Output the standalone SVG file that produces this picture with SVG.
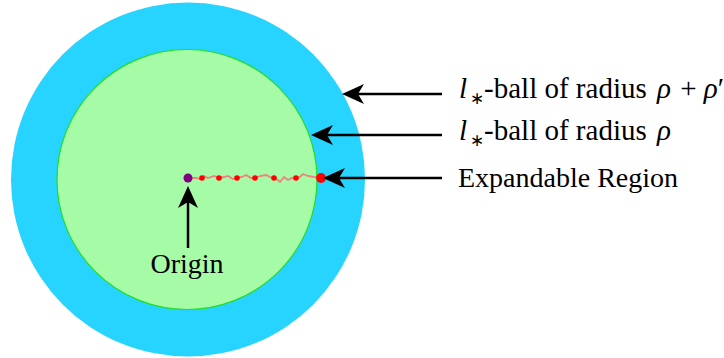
<svg xmlns="http://www.w3.org/2000/svg" width="724" height="358" viewBox="0 0 724 358">
<defs>
<style>
.lbl{font-family:"Liberation Serif","Times New Roman",serif;font-size:28px;fill:#000}
.r{font-size:29px}
.it{font-style:italic}
.sub{font-size:17px}
.ln{stroke:#000;stroke-width:2.5;fill:none}
</style>
<path id="ah" d="M0,0 L22,-10 L16,0 L22,10 Z" fill="#000"/>
</defs>
<rect width="724" height="358" fill="#fff"/>
<g id="outer-ball"><circle cx="188" cy="179.5" r="177" fill="#26d4ff"/></g>
<g id="inner-ball"><circle cx="187" cy="179.5" r="130" fill="#a6fba6" stroke="#22dd22" stroke-width="1.2"/></g>
<g id="path-points">
<polyline points="188,178 196,178 200,179 204,176 208,178 214,176 219,178 224,177 228,176 233,179 237,178 242,177 246,175 251,178 255,178 260,176 266,175 270,177 274,178 278,180 280,182 284,177 288,180 292,178 296,178 300,177 303,174 308,176 314,177 321,178" fill="none" stroke="#f08080" stroke-width="1.8"/>
<circle cx="202" cy="178" r="2.8" fill="#ff0000"/>
<circle cx="219" cy="178" r="2.8" fill="#ff0000"/>
<circle cx="237" cy="178" r="2.8" fill="#ff0000"/>
<circle cx="255" cy="178" r="2.8" fill="#ff0000"/>
<circle cx="274" cy="178" r="2.8" fill="#ff0000"/>
<circle cx="296" cy="178" r="2.8" fill="#ff0000"/>
</g>
<g id="origin"><circle cx="188" cy="178" r="4.5" fill="#800080"/></g>
<g id="expandable-point"><circle cx="321" cy="178" r="5" fill="#ff0000"/></g>
<g id="connectors">
<line class="ln" x1="442" y1="94" x2="358" y2="94"/>
<use href="#ah" x="342" y="94"/>
<line class="ln" x1="442" y1="135" x2="327" y2="135"/>
<use href="#ah" x="311" y="135"/>
<line class="ln" x1="442" y1="178" x2="339" y2="178"/>
<use href="#ah" x="323" y="178"/>
<line class="ln" x1="188" y1="248" x2="188" y2="202"/>
<use href="#ah" transform="translate(188,186) rotate(90)"/>
</g>
<g id="label-outer"><text class="lbl r" x="459" y="98"><tspan class="it">l</tspan><tspan class="sub" dx="3" dy="6">∗</tspan><tspan dy="-6">-ball of radius </tspan><tspan class="it" dx="3">ρ</tspan><tspan dx="2"> + </tspan><tspan class="it">ρ</tspan>′</text></g>
<g id="label-inner"><text class="lbl r" x="459" y="140"><tspan class="it">l</tspan><tspan class="sub" dx="3" dy="6">∗</tspan><tspan dy="-6">-ball of radius </tspan><tspan class="it" dx="3">ρ</tspan></text></g>
<g id="label-expandable"><text class="lbl" x="458" y="187" font-size="28.5">Expandable Region</text></g>
<g id="label-origin"><text class="lbl" x="187" y="273" text-anchor="middle">Origin</text></g>
</svg>
